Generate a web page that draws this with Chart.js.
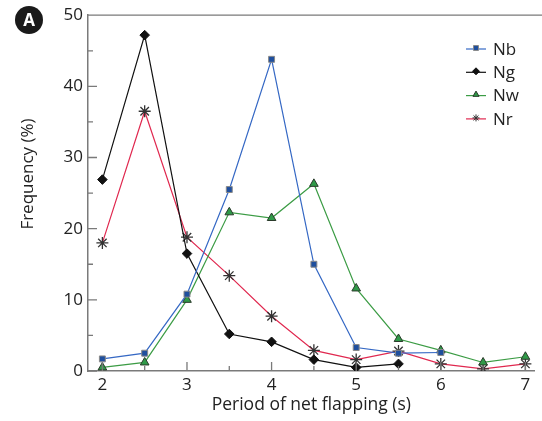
<!DOCTYPE html>
<html>
<head>
<meta charset="utf-8">
<script src="https://cdn.jsdelivr.net/npm/chart.js@4/dist/chart.umd.min.js"></script>
<style>
  body { margin: 0; background: #fff; }
  #wrap { position: relative; width: 542px; height: 421px; }
</style>
</head>
<body>
<div id="wrap"><canvas id="flapChart"></canvas></div>
<script>
// period of net flapping (s)
const periods = [2, 2.5, 3, 3.5, 4, 4.5, 5, 5.5, 6, 6.5, 7];
const xTicks = [2, 3, 4, 5, 6, 7];
const yTicks = [0, 10, 20, 30, 40, 50];

// frequency (%) per period
const nb = [1.7, 2.5, 10.8, 25.5, 43.8, 15.0, 3.3, 2.5, 2.6];
const ng = [26.9, 47.2, 16.5, 5.2, 4.1, 1.6, 0.5, 1.0];
const nw = [0.5, 1.2, 10.0, 22.3, 21.5, 26.3, 11.6, 4.5, 2.9, 1.2, 2.0];
const nr = [18.0, 36.5, 18.8, 13.4, 7.7, 2.9, 1.6, 2.8, 1.0, 0.3, 1.0];

const FONT = "'Open Sans', 'DejaVu Sans', sans-serif";
const AXIS = "#7a7a7a";

function pts(vals) {
  return vals.map((v, i) => ({ x: periods[i], y: v }));
}

// inward ticks, top border, y title, badge and the legend
const decor = {
  id: "decor",
  afterDraw(chart) {
    const ctx = chart.ctx;
    const xs = chart.scales.x, ys = chart.scales.y;
    const area = chart.chartArea;
    ctx.save();
    ctx.strokeStyle = AXIS;
    ctx.lineWidth = 1.3;
    ctx.beginPath();
    ctx.moveTo(area.left, area.top);
    ctx.lineTo(chart.width, area.top);
    for (let v = 0; v <= 50; v += 5) {
      const y = ys.getPixelForValue(v);
      const len = v % 10 === 0 ? 9 : 5;
      ctx.moveTo(area.left, y);
      ctx.lineTo(area.left + len, y);
    }
    for (let v = 2; v <= 7; v += 0.5) {
      const x = xs.getPixelForValue(v);
      const len = v % 1 === 0 ? 9 : 5;
      ctx.moveTo(x, area.bottom);
      ctx.lineTo(x, area.bottom - len);
    }
    ctx.stroke();

    // y axis title
    ctx.fillStyle = "#222";
    ctx.font = "17px " + FONT;
    ctx.textAlign = "center";
    ctx.textBaseline = "middle";
    ctx.translate(28, 174);
    ctx.rotate(-Math.PI / 2);
    ctx.fillText("Frequency (%)", 0, 0);
    ctx.setTransform(1, 0, 0, 1, 0, 0);

    // panel badge
    ctx.fillStyle = "#1a1a1a";
    ctx.beginPath();
    ctx.arc(29, 20, 14, 0, Math.PI * 2);
    ctx.fill();
    ctx.fillStyle = "#fff";
    ctx.font = "bold 17px " + FONT;
    ctx.fillText("A", 29, 21);

    // legend
    ctx.textAlign = "left";
    ctx.font = "17px " + FONT;
    chart.data.datasets.forEach((ds, i) => {
      const y = 49 + i * 23.3;
      ctx.strokeStyle = ds.borderColor;
      ctx.lineWidth = 1.2;
      ctx.beginPath();
      ctx.moveTo(466, y);
      ctx.lineTo(486, y);
      ctx.stroke();
      ctx.fillStyle = ds.pointBackgroundColor;
      ctx.strokeStyle = ds.pointBorderColor;
      ctx.lineWidth = 1;
      Chart.helpers.drawPoint(ctx, { pointStyle: ds.pointStyle, radius: 3.5, rotation: 0, borderWidth: 1 }, 476, y - 1);
      ctx.fillStyle = "#222";
      ctx.fillText(ds.label, 493, y + 1);
    });
    ctx.restore();
  }
};

new Chart(document.getElementById("flapChart"), {
  type: "line",
  data: {
    datasets: [
      { label: "Nb", data: pts(nb), borderColor: "#3568c4", pointStyle: "rect", pointRadius: 4.2,
        pointBackgroundColor: "#1f4f9e", pointBorderColor: "#8a8a8a", pointBorderWidth: 1 },
      { label: "Ng", data: pts(ng), borderColor: "#111", pointStyle: "rectRot", pointRadius: 4.8,
        pointBackgroundColor: "#111", pointBorderColor: "#111", pointBorderWidth: 1 },
      { label: "Nw", data: pts(nw), borderColor: "#3c9c45", pointStyle: "triangle", pointRadius: 5,
        pointBackgroundColor: "#2f9a48", pointBorderColor: "#2a3a2a", pointBorderWidth: 1 },
      { label: "Nr", data: pts(nr), borderColor: "#e0284f", pointStyle: "star", pointRadius: 6,
        pointBackgroundColor: "#333", pointBorderColor: "#333", pointBorderWidth: 1.3 }
    ]
  },
  options: {
    responsive: true,
    maintainAspectRatio: false,
    animation: false,
    datasets: { line: { borderWidth: 1.2, tension: 0, fill: false } },
    layout: { padding: { top: 13, right: 0, left: 0, bottom: 0 } },
    plugins: { legend: { display: false }, tooltip: { enabled: false } },
    scales: {
      x: {
        type: "linear",
        min: 1.83,
        max: 7.11,
        afterBuildTicks: s => { s.ticks = xTicks.map(v => ({ value: v })); },
        afterFit: s => { s.height = 50; },
        grid: { display: false, drawTicks: false },
        border: { display: true, color: AXIS, width: 1.5 },
        ticks: { color: "#222", padding: 4, font: { family: FONT, size: 17 } },
        title: { display: true, text: "Period of net flapping (s)", color: "#222",
                 padding: { top: 0, bottom: 5 }, font: { family: FONT, size: 17.5 } }
      },
      y: {
        min: 0,
        max: 50,
        afterBuildTicks: s => { s.ticks = yTicks.map(v => ({ value: v })); },
        afterFit: s => { s.width = 88; },
        grid: { display: false, drawTicks: false },
        border: { display: true, color: AXIS, width: 1.5 },
        ticks: { color: "#222", padding: 5, font: { family: FONT, size: 17 } }
      }
    }
  },
  plugins: [decor]
});
</script>
</body>
</html>
